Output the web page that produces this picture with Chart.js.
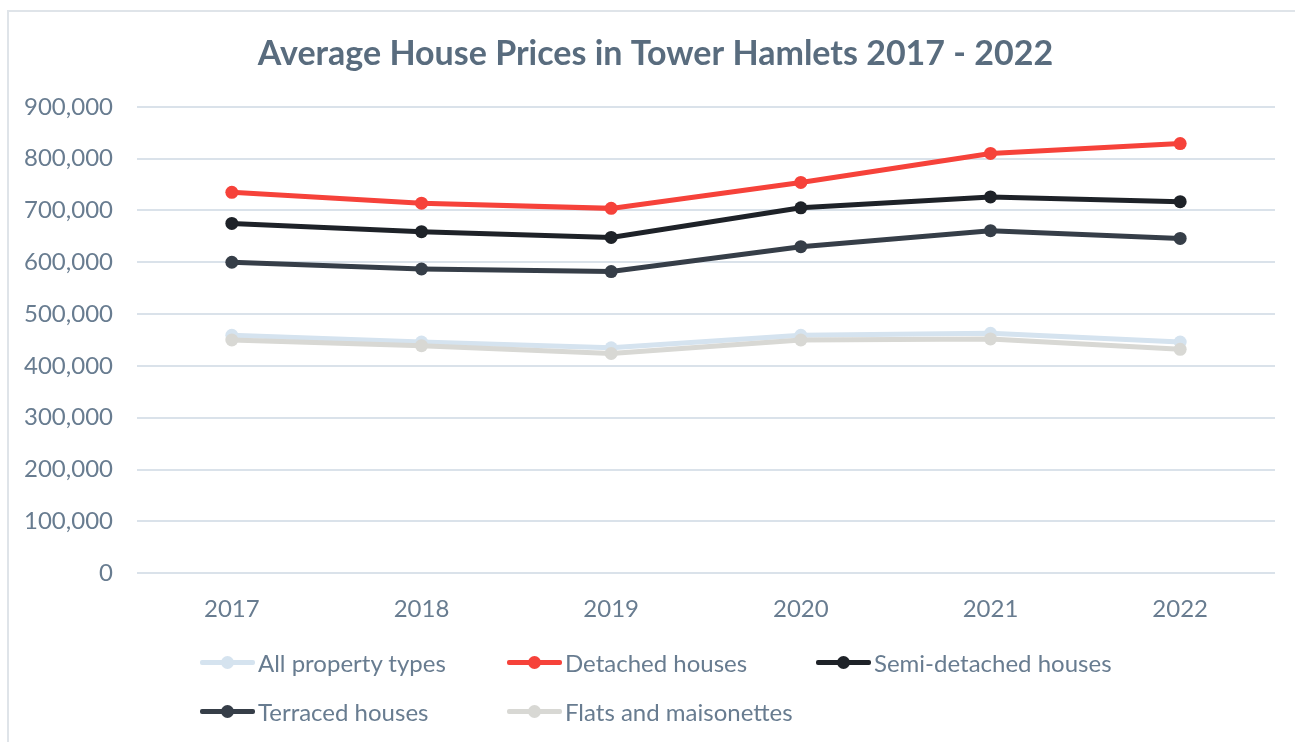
<!DOCTYPE html>
<html>
<head>
<meta charset="utf-8">
<script src="https://cdn.jsdelivr.net/npm/chart.js@4"></script>
<style>
  body { margin: 0; background: #fff; }
  #wrap { position: relative; width: 1295px; height: 742px; overflow: hidden; }
  #frame { position: absolute; left: 7px; top: 10px; width: 1300px; height: 740px;
           border-left: 2px solid #dfe4e9; border-top: 2px solid #dfe4e9; }
  #chart { position: absolute; left: 0; top: 0; }
  #legend { position: absolute; left: 200px; top: 646px;
            display: grid; grid-template-columns: 307px 309px auto; row-gap: 17px;
            font-family: Lato, sans-serif; font-size: 24px; color: #687c90; }
  .item { display: flex; align-items: center; height: 32px; white-space: nowrap; }
  .mark { position: relative; width: 55px; height: 5px; margin-right: 3px; border-radius: 2px; }
  .mark span { position: absolute; left: 21px; top: -4px; width: 13px; height: 13px; border-radius: 50%; }
</style>
</head>
<body>
<div id="wrap">
  <div id="frame"></div>
  <canvas id="chart" width="1295" height="658"></canvas>
  <div id="legend"></div>
</div>
<script>
const years = ['2017', '2018', '2019', '2020', '2021', '2022'];
const allTypes = [459000, 446000, 435000, 459000, 463000, 446000];
const detached = [735000, 714000, 704000, 754000, 810000, 829000];
const semiDetached = [675000, 659000, 648000, 705000, 726000, 717000];
const terraced = [600000, 587000, 582000, 630000, 661000, 646000];
const flats = [450000, 439000, 424000, 450000, 452000, 432000];

const seriesNames = ['All property types', 'Detached houses', 'Semi-detached houses', 'Terraced houses', 'Flats and maisonettes'];
const seriesColors = ['#d5e3ef', '#f6423a', '#1e2228', '#363e48', '#d8d8d4'];
const seriesValues = [allTypes, detached, semiDetached, terraced, flats];

const tickColor = '#687c90';

const datasets = seriesValues.map(function (vals, i) {
	return {
		label: seriesNames[i],
		data: vals,
		borderColor: seriesColors[i],
		backgroundColor: seriesColors[i],
		borderWidth: 5,
		pointRadius: 6.5,
		pointHoverRadius: 6.5,
		pointBorderWidth: 0,
		tension: 0,
		order: i === 0 ? 5 : 1
	};
});

// nudge the title a bit to the right, as in the original
const titleShift = {
	id: 'titleShift',
	afterLayout(chart) {
		if (chart.titleBlock) chart.titleBlock.left += 36;
	}
};

new Chart(document.getElementById('chart'), {
	type: 'line',
	data: { labels: years, datasets: datasets },
	plugins: [titleShift],
	options: {
		responsive: false,
		animation: false,
		devicePixelRatio: 1,
		layout: { padding: { left: 0, right: 20, bottom: 12 } },
		plugins: {
			legend: { display: false },
			tooltip: { enabled: false },
			title: {
				display: true,
				text: 'Average House Prices in Tower Hamlets 2017 - 2022',
				color: '#596c7e',
				font: { family: 'Lato', size: 34, weight: 'bold' },
				padding: { top: 34, bottom: 32 }
			}
		},
		scales: {
			x: {
				offset: true,
				grid: { display: false, drawTicks: false },
				border: { display: false },
				ticks: { color: tickColor, font: { family: 'Lato', size: 24 }, padding: 22, maxRotation: 0 }
			},
			y: {
				min: 0,
				max: 900000,
				afterFit: function (scale) { scale.width = 137; },
				grid: { color: '#dae2ea', lineWidth: 2, drawTicks: false },
				border: { display: false },
				ticks: {
					stepSize: 100000,
					color: tickColor,
					font: { family: 'Lato', size: 24 },
					padding: 24,
					callback: function (v) { return v.toLocaleString('en-US'); }
				}
			}
		}
	}
});

const legend = document.getElementById('legend');
seriesNames.forEach(function (name, i) {
	const item = document.createElement('div');
	item.className = 'item';
	const mark = document.createElement('div');
	mark.className = 'mark';
	mark.style.background = seriesColors[i];
	const dot = document.createElement('span');
	dot.style.background = seriesColors[i];
	mark.appendChild(dot);
	item.appendChild(mark);
	item.appendChild(document.createTextNode(name));
	legend.appendChild(item);
});
</script>
</body>
</html>
